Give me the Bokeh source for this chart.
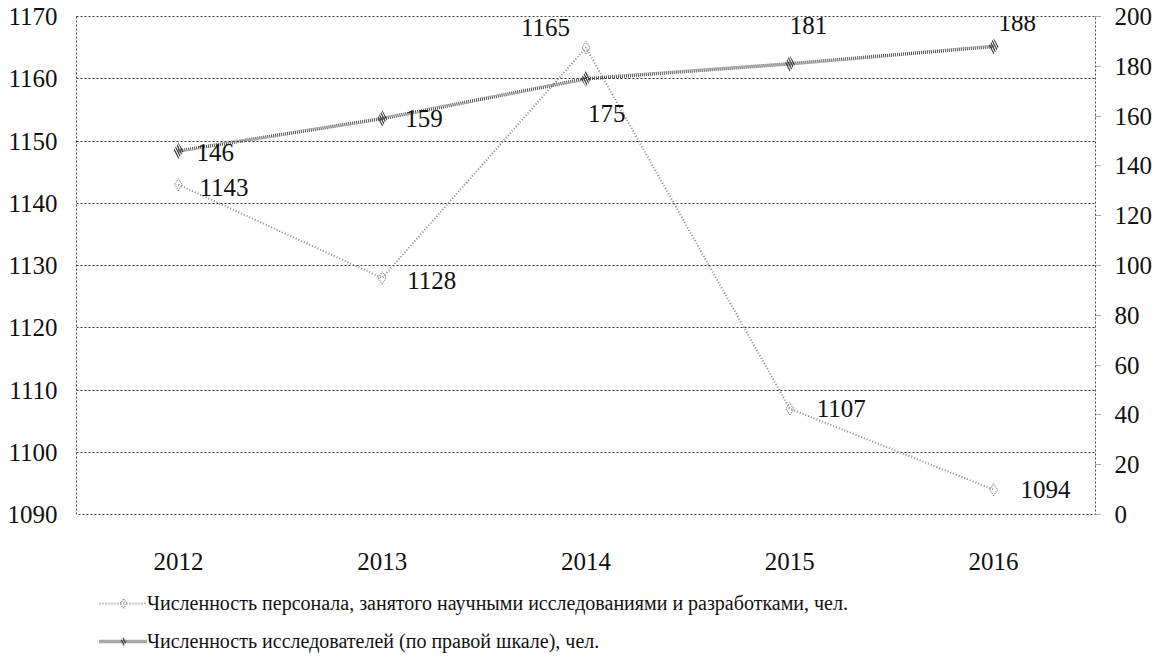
from bokeh.plotting import figure
from bokeh.layouts import column
from bokeh.models import (Range1d, LinearAxis, ColumnDataSource, LabelSet, Legend,
                          LegendItem, FixedTicker, FactorRange)
from bokeh.embed import file_html
from bokeh.resources import INLINE

# ---- data ----
years = ["2012", "2013", "2014", "2015", "2016"]
personnel = [1143, 1128, 1165, 1107, 1094]
researchers = [146, 159, 175, 181, 188]
left_ticks = [1090, 1100, 1110, 1120, 1130, 1140, 1150, 1160, 1170]
right_ticks = [0, 20, 40, 60, 80, 100, 120, 140, 160, 180, 200]
name_personnel = "Численность персонала, занятого научными исследованиями и разработками, чел."
name_researchers = "Численность исследователей (по правой шкале), чел."

# label placement (screen offsets)
p_lbl_dx = [21, 25, -16, 27, 27]
p_lbl_dy = [-3, -3, 20, 0, 0]
p_lbl_align = ["left", "left", "right", "left", "left"]
r_lbl_dx = [18, 23, 2, 0, 5]
r_lbl_dy = [-2, 0, -35, 38, 24]
r_lbl_align = ["left", "left", "left", "left", "left"]

FONT = "Liberation Serif"
TXT = "#111111"
FS = "25px"

p = figure(x_range=FactorRange(*years), y_range=Range1d(1090, 1170),
           frame_width=1019, frame_height=498,
           min_border_left=76, min_border_top=16, min_border_right=62,
           min_border_bottom=62,
           output_backend="svg", toolbar_location=None)
p.extra_y_ranges = {"right": Range1d(0, 200)}

p.outline_line_color = "#444444"
p.outline_line_dash = "2 2"
p.outline_line_width = 1
p.background_fill_color = "white"
p.border_fill_color = "white"

# grid
p.xgrid.grid_line_color = None
p.ygrid.ticker = FixedTicker(ticks=left_ticks)
p.ygrid.grid_line_color = "#333333"
p.ygrid.grid_line_dash = "2 2"
p.ygrid.grid_line_width = 1

# left axis
la = p.yaxis[0]
la.ticker = FixedTicker(ticks=left_ticks)
la.axis_line_color = None
la.major_tick_line_color = None
la.minor_tick_line_color = None
la.major_label_text_font = FONT
la.major_label_text_font_size = FS
la.major_label_text_color = TXT
la.major_label_standoff = 13

# right axis
ra = LinearAxis(y_range_name="right", ticker=FixedTicker(ticks=right_ticks))
ra.axis_line_color = None
ra.major_tick_line_color = "#555555"
ra.major_tick_line_dash = "1 1"
ra.major_tick_in = 0
ra.major_tick_out = 5
ra.minor_tick_line_color = None
ra.major_label_text_font = FONT
ra.major_label_text_font_size = FS
ra.major_label_text_color = TXT
ra.major_label_standoff = 14
p.add_layout(ra, "right")

# x axis
xa = p.xaxis[0]
xa.axis_line_color = None
xa.major_tick_line_color = None
xa.minor_tick_line_color = None
xa.major_label_text_font = FONT
xa.major_label_text_font_size = FS
xa.major_label_text_color = TXT
xa.major_label_standoff = 32

src = ColumnDataSource(dict(year=years, personnel=personnel, researchers=researchers,
                            p_txt=[str(v) for v in personnel],
                            r_txt=[str(v) for v in researchers],
                            p_dx=p_lbl_dx, p_dy=p_lbl_dy, p_al=p_lbl_align,
                            r_dx=r_lbl_dx, r_dy=r_lbl_dy, r_al=r_lbl_align))

S1 = dict(line_color="#8a8a8a", line_width=2, line_dash="1 2")
M1 = dict(marker="diamond", size=12, fill_color=None, line_color="#8a8a8a",
          line_width=1.2, line_dash="1 1")
S2 = dict(line_color="#505050", line_width=3.5, line_dash="1 1")
M2 = dict(marker="diamond", size=16, fill_color=None, line_color=None,
          hatch_pattern="\\", hatch_color="#333333", hatch_scale=5, hatch_weight=1.2)

# series 1: personnel (left scale)
p.line("year", "personnel", source=src, **S1)
p.scatter("year", "personnel", source=src, **M1)
# series 2: researchers (right scale)
p.line("year", "researchers", source=src, y_range_name="right", **S2)
p.scatter("year", "researchers", source=src, y_range_name="right", **M2)

lab1 = LabelSet(x="year", y="personnel", text="p_txt", source=src,
                x_offset="p_dx", y_offset="p_dy", text_align="p_al",
                text_baseline="middle", text_font=FONT, text_font_size=FS,
                text_color=TXT)
lab2 = LabelSet(x="year", y="researchers", text="r_txt", source=src,
                y_range_name="right",
                x_offset="r_dx", y_offset="r_dy", text_align="r_al",
                text_baseline="middle", text_font=FONT, text_font_size=FS,
                text_color=TXT)
p.add_layout(lab1)
p.add_layout(lab2)

# legend panel (separate figure; its glyphs are outside its view, only the legend shows)
lg = figure(x_range=FactorRange(*years), y_range=Range1d(0, 1),
            width=1157, height=80, min_border=0,
            output_backend="svg", toolbar_location=None)
lg.axis.visible = False
lg.grid.visible = False
lg.outline_line_color = None
a1 = lg.line("year", "personnel", source=src, **S1)
b1 = lg.scatter("year", "personnel", source=src, **M1)
a2 = lg.line("year", "researchers", source=src, **S2)
b2 = lg.scatter("year", "researchers", source=src, **M2)

legend = Legend(items=[LegendItem(label=name_personnel, renderers=[a1, b1]),
                       LegendItem(label=name_researchers, renderers=[a2, b2])],
                orientation="vertical", location=(23, 3),
                label_text_font=FONT, label_text_font_size="20px",
                label_text_color=TXT, glyph_width=48, glyph_height=24,
                label_height=24,
                label_standoff=0, spacing=14, padding=0, margin=0,
                border_line_color=None, background_fill_alpha=0)
lg.add_layout(legend)

open("out.html", "w").write(file_html(column(p, lg, spacing=0), INLINE))
